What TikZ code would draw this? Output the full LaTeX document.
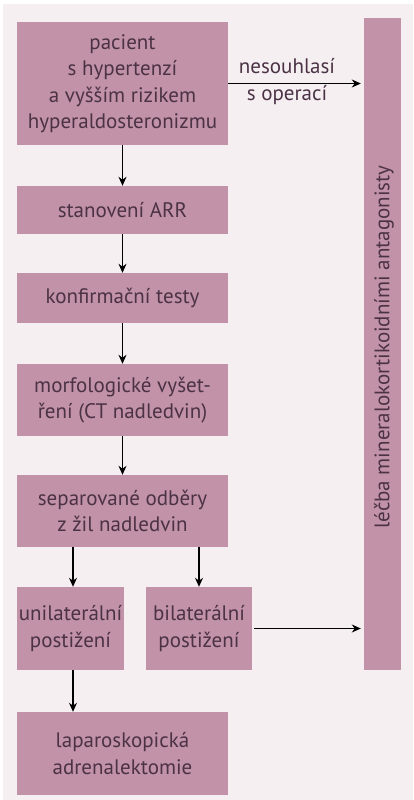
\documentclass[tikz,border=0pt]{standalone}
\usepackage{fontspec}
\setmainfont{PT Sans}
\usetikzlibrary{arrows.meta}
\definecolor{bgc}{HTML}{F5EFF2}
\definecolor{boxc}{HTML}{C192A8}
\definecolor{txtc}{HTML}{4C3245}
\tikzset{
  stepbox/.style={fill=boxc, text=txtc, inner sep=0pt, align=center, font=\fontsize{21}{26.5}\selectfont},
  flow/.style={-{Stealth[length=9pt,width=8pt]}, line width=1.3pt, black},
}
\begin{document}
\begin{tikzpicture}[x=1pt,y=-1pt]
\useasboundingbox (0,0) rectangle (413,800);
\fill[white] (0,0) rectangle (413,800);
\fill[bgc] (3,4) rectangle (413,800);
% boxes
\node[stepbox, minimum width=211pt, minimum height=123pt] (b1) at (122.5,83.5) {pacient\\s hypertenzí\\a vyšším rizikem\\hyperaldosteronizmu};
\node[stepbox, minimum width=211pt, minimum height=48pt] (b2) at (122.5,210) {stanovení ARR};
\node[stepbox, minimum width=211pt, minimum height=50pt] (b3) at (122.5,298) {konfirmační testy};
\node[stepbox, minimum width=211pt, minimum height=72pt] (b4) at (122.5,400) {morfologické vyšet-\\ření (CT nadledvin)};
\node[stepbox, minimum width=211pt, minimum height=72pt] (b5) at (122.5,511) {separované odběry\\z žil nadledvin};
\node[stepbox, minimum width=107pt, minimum height=83pt] (u) at (70.5,628.5) {unilaterální\\postižení};
\node[stepbox, minimum width=106pt, minimum height=83pt] (bi) at (199,628.5) {bilaterální\\postižení};
\node[stepbox, minimum width=211pt, minimum height=83pt] (l) at (122.5,753.5) {laparoskopická\\adrenalektomie};
\node[stepbox, minimum width=37pt, minimum height=652pt] (r) at (382.5,344) {};
\node[text=txtc, rotate=90, font=\fontsize{21}{26}\selectfont, inner sep=0pt] (rt) at (384,347) {léčba mineralokortikoidními antagonisty};
% arrows
\draw[flow] (b1.south) -- (b2.north);
\draw[flow] (b2.south) -- (b3.north);
\draw[flow] (b3.south) -- (b4.north);
\draw[flow] (b4.south) -- (b5.north);
\draw[flow] (b5.south -| u.north) ++(2.5,0) coordinate (c1) -- (c1 |- u.north);
\draw[flow] (b5.south -| bi.north) -- (bi.north);
\draw[flow] (u.south) ++(2.5,0) coordinate (c2) -- (c2 |- l.north);
\draw[flow, shorten >=3pt] (b1.east) -- (b1.east -| r.west);
\draw[flow, shorten <=2pt, shorten >=3pt] (bi.east) -- (bi.east -| r.west);
\node[text=txtc, align=center, font=\fontsize{21}{27}\selectfont, inner sep=0pt] (lab) at (287,82) {nesouhlasí\\s operací};
\end{tikzpicture}
\end{document}
